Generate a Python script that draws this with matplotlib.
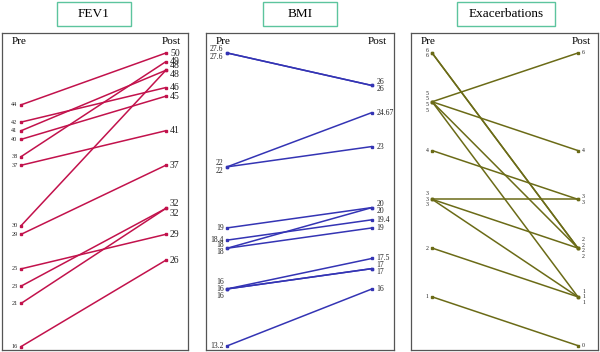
import matplotlib
matplotlib.use('Agg')
import matplotlib.pyplot as plt
from matplotlib.patches import Rectangle
from collections import Counter

plt.rcParams['font.family'] = ['Liberation Serif', 'DejaVu Serif']

# 数据：每行一个病人 (Pre -> Post)
titles = ['FEV1', 'BMI', 'Exacerbations']
fev1_pre = [44, 42, 41, 40, 38, 37, 30, 29, 25, 23, 21, 16]
fev1_post = [50, 46, 48, 45, 49, 41, 48, 37, 29, 32, 32, 26]
bmi_pre = [27.6, 27.6, 22, 22, 19, 18.4, 18, 18, 16, 16, 16, 13.2]
bmi_post = [26, 26, 24.67, 23, 20, 19.4, 20, 19, 17.5, 17, 17, 16]
exac_pre = [6, 6, 5, 5, 5, 5, 4, 3, 3, 3, 2, 1]
exac_post = [2, 2, 6, 4, 2, 1, 3, 3, 2, 1, 1, 0]

colors = ['#c2124c', '#3434b4', '#6b6b17']
ylims = [(15.6, 52.32), (13.0, 28.58), (-0.09, 6.41)]
xlims = [(-0.132, 1.153), (-0.145, 1.152), (-0.145, 1.138)]
# 面板位置（像素）
panels_px = [(2, 188), (206, 394), (411, 598)]
title_box_px = [(57, 131), (263, 337), (457, 555)]
pre_fs = [4.5, 5.5, 4.2]
post_fs = [7, 5.5, 4.2]
TOP, BOT = 33, 350

W, H = 600, 352
fig = plt.figure(figsize=(W / 100, H / 100), dpi=100)

def fmt(v):
    return f'{v:g}'

def draw_labels(ax, vals, x, fs, ha, dx, color='#222222'):
    cnt = Counter(vals)
    for v, n in cnt.items():
        for i in range(n):
            dy = -(i - (n - 1) / 2) * fs * 0.95
            ax.annotate(fmt(v), (x, v), xytext=(dx, dy), textcoords='offset points',
                        ha=ha, va='center', fontsize=fs, color=color)

data = [(fev1_pre, fev1_post), (bmi_pre, bmi_post), (exac_pre, exac_post)]
for k, (pre, post) in enumerate(data):
    l, r = panels_px[k]
    ax = fig.add_axes([l / W, (H - BOT) / H, (r - l) / W, (BOT - TOP) / H])
    for a, b in zip(pre, post):
        ax.plot([0, 1], [a, b], color=colors[k], lw=1.1, marker='s', ms=2, solid_capstyle='round')
    ax.set_xlim(*xlims[k])
    ax.set_ylim(*ylims[k])
    ax.set_xticks([])
    ax.set_yticks([])
    for s in ax.spines.values():
        s.set_color('#555555')
        s.set_linewidth(0.9)
    draw_labels(ax, pre, 0, pre_fs[k], 'right', -2.5)
    draw_labels(ax, post, 1, post_fs[k], 'left', 3)
    ax.text(0.05, 0.988, 'Pre', transform=ax.transAxes, ha='left', va='top', fontsize=8)
    ax.text(0.96, 0.988, 'Post', transform=ax.transAxes, ha='right', va='top', fontsize=8)

    # 标题框
    bl, br = title_box_px[k]
    fig.patches.append(Rectangle((bl / W, 1 - 26 / H), (br - bl) / W, 24 / H,
                                 transform=fig.transFigure, fill=False,
                                 edgecolor='#5cc49e', lw=1.0))
    fig.text((bl + br) / 2 / W, 1 - 14 / H, titles[k], ha='center', va='center', fontsize=9.5)

plt.savefig('out.png', dpi=100)
